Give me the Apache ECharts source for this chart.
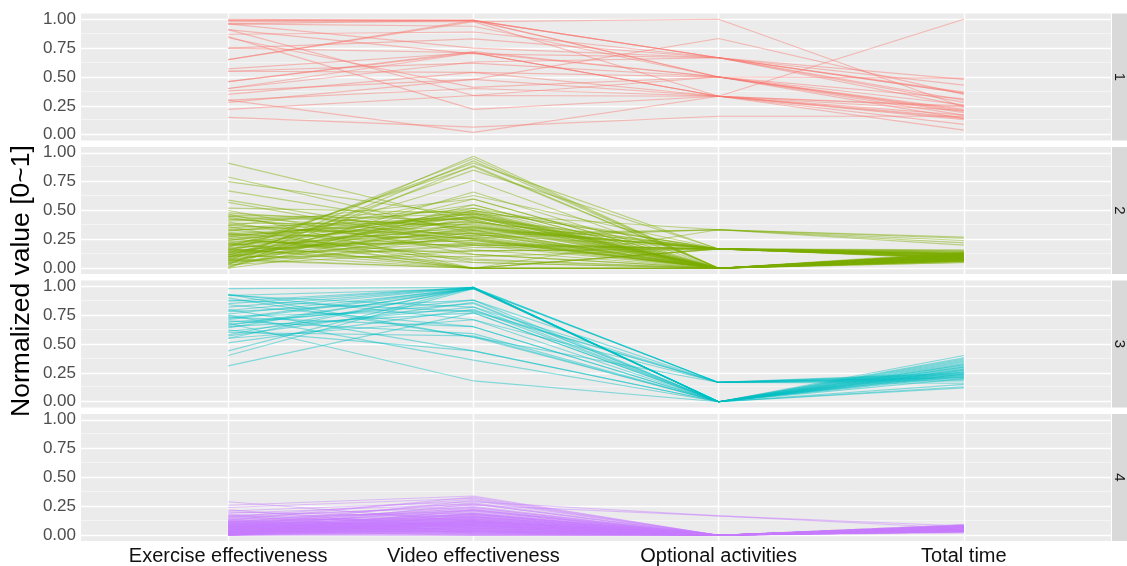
<!DOCTYPE html>
<html><head><meta charset="utf-8">
<script src="https://cdn.jsdelivr.net/npm/echarts@6/dist/echarts.min.js"></script>
<style>html,body{margin:0;padding:0;background:#fff}#c{width:1127px;height:566px}</style>
</head><body><div id="c"></div>
<script>
const categories = ['Exercise effectiveness', 'Video effectiveness', 'Optional activities', 'Total time'];
const yTicks = [0, 0.25, 0.5, 0.75, 1];
const yMinor = [0.125, 0.375, 0.625, 0.875];
const facetLabels = ['1', '2', '3', '4'];
const colors = ['#F8766D', '#7CAE00', '#00BFC4', '#C77CFF'];

// each row: [Exercise effectiveness, Video effectiveness, Optional activities, Total time]
const cluster1 = [
[1.00,0.99,0.667,0.25],[0.99,0.99,0.667,0.36],[0.98,0.98,1.00,0.24],[0.96,0.99,0.667,0.30],
[0.96,0.94,0.50,0.20],[0.91,0.34,0.50,0.14],[0.87,0.89,0.667,0.48],[0.85,0.22,0.333,1.00],
[0.84,0.41,0.50,0.17],[0.75,0.83,0.667,0.37],[0.75,0.71,0.50,0.21],[0.65,0.99,0.50,0.19],
[0.65,0.98,0.333,0.25],[0.57,0.71,0.333,0.15],[0.55,0.62,0.50,0.26],[0.55,0.54,0.333,0.13],
[0.46,0.71,0.333,0.24],[0.46,0.72,0.50,0.49],[0.40,0.71,0.333,0.17],[0.40,0.63,0.667,0.43],
[0.38,0.48,0.333,0.09],[0.35,0.54,0.50,0.31],[0.30,0.40,0.333,0.21],[0.28,0.48,0.833,0.35],
[0.22,0.34,0.333,0.14],[0.15,0.066,0.16,0.16],[0.30,0.02,0.333,0.04],[0.96,0.75,0.667,0.36],
[0.99,0.99,0.50,0.22],[0.91,0.70,0.667,0.28]
];
const cluster2 = [
[0.91,0.40,0.167,0.10],[0.79,0.30,0.0,0.08],[0.75,0.45,0.0,0.12],[0.67,0.33,0.167,0.09],
[0.59,0.25,0.0,0.07],[0.57,0.20,0.167,0.11],[0.52,0.48,0.0,0.10],[0.50,0.12,0.0,0.06],
[0.48,0.35,0.167,0.13],[0.47,0.00,0.0,0.05],[0.46,0.42,0.0,0.09],[0.45,0.28,0.333,0.24],
[0.44,0.16,0.0,0.08],[0.42,0.50,0.167,0.12],[0.40,0.05,0.0,0.07],[0.39,0.38,0.0,0.11],
[0.38,0.22,0.167,0.14],[0.37,0.60,0.0,0.09],[0.36,0.00,0.167,0.15],[0.35,0.44,0.0,0.06],
[0.34,0.30,0.0,0.10],[0.33,0.18,0.167,0.08],[0.32,0.52,0.0,0.12],[0.31,0.08,0.0,0.09],
[0.30,0.40,0.167,0.11],[0.29,0.26,0.0,0.07],[0.28,0.00,0.0,0.10],[0.27,0.47,0.0,0.13],
[0.26,0.34,0.167,0.16],[0.25,0.12,0.0,0.06],[0.24,0.55,0.0,0.09],[0.23,0.20,0.167,0.12],
[0.22,0.41,0.0,0.08],[0.21,0.00,0.0,0.11],[0.20,0.30,0.333,0.26],[0.20,0.63,0.167,0.14],
[0.19,0.45,0.0,0.10],[0.18,0.24,0.0,0.07],[0.18,0.88,0.0,0.12],[0.17,0.36,0.167,0.09],
[0.16,0.05,0.0,0.08],[0.16,0.49,0.0,0.11],[0.15,0.91,0.167,0.13],[0.15,0.28,0.0,0.06],
[0.14,0.42,0.0,0.10],[0.14,0.15,0.167,0.09],[0.13,0.95,0.0,0.12],[0.13,0.33,0.0,0.07],
[0.12,0.00,0.0,0.05],[0.12,0.52,0.167,0.11],[0.11,0.22,0.0,0.09],[0.11,0.76,0.0,0.13],
[0.10,0.39,0.0,0.08],[0.10,0.10,0.167,0.12],[0.09,0.46,0.0,0.10],[0.09,0.85,0.167,0.15],
[0.08,0.27,0.0,0.07],[0.08,0.60,0.0,0.11],[0.07,0.35,0.167,0.09],[0.07,0.00,0.0,0.06],
[0.06,0.97,0.0,0.10],[0.06,0.44,0.0,0.12],[0.05,0.20,0.0,0.08],[0.05,0.50,0.167,0.13],
[0.04,0.66,0.0,0.09],[0.04,0.31,0.0,0.11],[0.03,0.93,0.0,0.14],[0.03,0.15,0.167,0.10],
[0.02,0.40,0.0,0.07],[0.01,0.55,0.0,0.12],[0.00,0.29,0.167,0.09],[0.00,0.89,0.0,0.11],
[0.24,0.47,0.333,0.22],[0.30,0.00,0.333,0.20],[0.14,0.26,0.333,0.27],[0.43,0.25,0.0,0.10],
[0.41,0.47,0.0,0.08],[0.33,0.43,0.167,0.12],[0.29,0.36,0.0,0.09],[0.26,0.07,0.0,0.11],
[0.22,0.00,0.167,0.10],[0.19,0.50,0.0,0.13],[0.17,0.00,0.0,0.08],[0.12,0.32,0.0,0.10],
[0.08,0.00,0.167,0.12],[0.45,0.37,0.0,0.09],[0.37,0.26,0.0,0.12],[0.28,0.44,0.167,0.10],
[0.21,0.33,0.0,0.08],[0.16,0.24,0.0,0.11],[0.10,0.48,0.0,0.09],[0.06,0.21,0.167,0.13]
];
const cluster3 = [
[0.98,0.99,0.0,0.30],[0.93,0.71,0.167,0.25],[0.92,0.98,0.0,0.35],[0.92,0.82,0.0,0.28],
[0.90,0.56,0.167,0.21],[0.87,0.99,0.0,0.27],[0.84,0.65,0.0,0.32],[0.82,0.99,0.167,0.18],
[0.80,0.44,0.0,0.24],[0.78,0.88,0.0,0.30],[0.76,0.98,0.0,0.38],[0.75,0.36,0.0,0.26],
[0.74,0.79,0.167,0.22],[0.72,0.99,0.0,0.29],[0.70,0.59,0.0,0.33],[0.69,0.85,0.0,0.25],
[0.68,0.18,0.0,0.20],[0.66,0.98,0.167,0.23],[0.65,0.77,0.0,0.31],[0.64,0.99,0.0,0.36],
[0.61,0.82,0.167,0.19],[0.60,0.57,0.0,0.27],[0.58,0.98,0.0,0.22],[0.57,0.86,0.0,0.34],
[0.55,0.99,0.167,0.21],[0.55,0.71,0.0,0.28],[0.51,0.80,0.0,0.24],[0.44,0.99,0.0,0.40],
[0.40,0.98,0.167,0.16],[0.31,0.77,0.0,0.13],[0.85,0.99,0.0,0.26],[0.88,0.78,0.167,0.20],
[0.73,0.65,0.0,0.23],[0.62,0.44,0.0,0.15],[0.79,0.99,0.0,0.32],[0.67,0.88,0.167,0.24],
[0.93,0.56,0.0,0.12],[0.71,0.98,0.0,0.37]
];
const cluster4 = [
[0.29,0.12,0,0.05],[0.26,0.34,0,0.07],[0.24,0.32,0,0.04],[0.22,0.06,0,0.06],
[0.21,0.29,0.167,0.08],[0.20,0.16,0,0.03],[0.19,0.27,0,0.06],[0.18,0.08,0,0.05],
[0.17,0.24,0,0.07],[0.17,0.03,0,0.04],[0.16,0.19,0,0.06],[0.16,0.31,0,0.08],
[0.15,0.12,0,0.05],[0.15,0.26,0.167,0.06],[0.14,0.06,0,0.07],[0.14,0.21,0,0.03],
[0.13,0.15,0,0.06],[0.13,0.33,0,0.05],[0.12,0.09,0,0.08],[0.12,0.23,0,0.04],
[0.12,0.02,0,0.06],[0.11,0.18,0,0.07],[0.11,0.28,0,0.05],[0.11,0.11,0,0.09],
[0.10,0.05,0,0.06],[0.10,0.20,0,0.04],[0.10,0.14,0,0.07],[0.09,0.25,0,0.06],
[0.09,0.08,0,0.05],[0.09,0.17,0,0.08],[0.08,0.03,0,0.06],[0.08,0.22,0,0.04],
[0.08,0.12,0,0.07],[0.08,0.30,0,0.05],[0.07,0.07,0,0.06],[0.07,0.16,0,0.08],
[0.07,0.01,0,0.03],[0.07,0.19,0,0.06],[0.06,0.10,0,0.05],[0.06,0.24,0,0.07],
[0.06,0.05,0,0.04],[0.06,0.13,0,0.06],[0.05,0.18,0,0.08],[0.05,0.02,0,0.05],
[0.05,0.09,0,0.07],[0.05,0.27,0,0.06],[0.05,0.14,0,0.04],[0.04,0.06,0,0.06],
[0.04,0.21,0,0.05],[0.04,0.11,0,0.08],[0.04,0.00,0,0.07],[0.04,0.16,0,0.03],
[0.03,0.08,0,0.06],[0.03,0.13,0,0.05],[0.03,0.03,0,0.07],[0.03,0.19,0,0.06],
[0.03,0.10,0,0.04],[0.02,0.05,0,0.08],[0.02,0.15,0,0.06],[0.02,0.01,0,0.05],
[0.02,0.12,0,0.07],[0.02,0.07,0,0.06],[0.02,0.22,0,0.04],[0.01,0.04,0,0.06],
[0.01,0.09,0,0.07],[0.01,0.14,0,0.05],[0.01,0.00,0,0.08],[0.01,0.06,0,0.03],
[0.00,0.02,0,0.06],[0.00,0.11,0,0.05],[0.00,0.07,0,0.07],[0.00,0.17,0,0.04],
[0.00,0.04,0,0.06],[0.00,0.00,0,0.05],[0.06,0.08,0,0.09],[0.09,0.04,0,0.06],
[0.03,0.16,0,0.07],[0.05,0.06,0,0.05],[0.01,0.10,0,0.06],[0.07,0.12,0,0.04],
[0.04,0.03,0,0.07],[0.02,0.09,0,0.06],[0.08,0.06,0,0.05],[0.10,0.10,0,0.06],
[0.03,0.05,0,0.08],[0.11,0.07,0,0.07],[0.09,0.13,0,0.05],[0.06,0.03,0,0.08],
[0.04,0.12,0,0.04],[0.02,0.04,0,0.07],[0.00,0.08,0,0.06],[0.12,0.14,0,0.05],
[0.08,0.09,0,0.03],[0.05,0.11,0,0.06],[0.03,0.01,0,0.05],[0.01,0.13,0,0.08],
[0.07,0.05,0,0.07],[0.10,0.02,0,0.04],[0.05,0.15,0,0.09],[0.02,0.18,0,0.05],
[0.09,0.10,0,0.07],[0.04,0.08,0,0.02],[0.06,0.16,0,0.06],[0.00,0.12,0,0.07],
[0.13,0.04,0,0.06],[0.08,0.18,0,0.08],[0.03,0.11,0,0.03],[0.01,0.03,0,0.06],
[0.11,0.22,0,0.05],[0.07,0.09,0,0.07]
];
const clusters = [cluster1, cluster2, cluster3, cluster4];

const chart = echarts.init(document.getElementById('c'), null, {renderer: 'canvas'});
const FONT = 'Liberation Sans, Arial, Helvetica, sans-serif';
const panelLeft = 81, panelRight = 16, panelH = 127;
const panelTops = [13.5, 147, 280.5, 414];

const grids = [], xAxes = [], yAxes = [], series = [], graphics = [];
panelTops.forEach((top, k) => {
  const last = k === 3;
  grids.push({left: panelLeft, right: panelRight, top: top, height: panelH,
    show: true, backgroundColor: '#EBEBEB', borderWidth: 0, containLabel: false});
  xAxes.push({type: 'value', gridIndex: k, min: -0.6, max: 3.6,
    axisLine: {show: false}, splitLine: {show: false},
    axisTick: {show: last, customValues: [0,1,2,3], length: 4, lineStyle: {color: '#333', width: 1}},
    axisLabel: {show: last, customValues: [0,1,2,3], formatter: v => categories[Math.round(v)] || '',
      color: '#111', fontSize: 20, fontFamily: FONT, margin: 5}});
  yAxes.push({type: 'value', gridIndex: k, min: -0.05, max: 1.05,
    axisLine: {show: false}, splitLine: {show: false},
    axisTick: {show: true, customValues: yTicks, length: 4, lineStyle: {color: '#333', width: 1}},
    axisLabel: {customValues: yTicks, formatter: v => v.toFixed(2), color: '#4D4D4D',
      fontSize: 17, fontFamily: FONT, margin: 5}});
  const ml = [];
  yMinor.forEach(v => ml.push({yAxis: v, lineStyle: {color: '#F6F6F6', width: 0.8, type: 'solid'}}));
  yTicks.forEach(v => ml.push({yAxis: v, lineStyle: {color: '#FFFFFF', width: 1.4, type: 'solid'}}));
  [0,1,2,3].forEach(v => ml.push({xAxis: v, lineStyle: {color: '#FFFFFF', width: 1.4, type: 'solid'}}));
  series.push({type: 'line', xAxisIndex: k, yAxisIndex: k, data: [], z: 1, silent: true,
    markLine: {silent: true, symbol: 'none', animation: false, z: 1, label: {show: false}, data: ml}});
  clusters[k].forEach(row => {
    series.push({type: 'line', xAxisIndex: k, yAxisIndex: k, z: 3, silent: true, animation: false,
      symbol: 'none', showSymbol: false,
      lineStyle: {color: colors[k], width: 1.15, opacity: 0.45},
      data: row.map((v, i) => [i, v])});
  });
  graphics.push({type: 'rect', shape: {x: 1112, y: top, width: 15, height: panelH},
    style: {fill: '#D9D9D9'}, silent: true});
  graphics.push({type: 'text', x: 1119.5, y: top + panelH / 2, rotation: -Math.PI / 2,
    style: {text: facetLabels[k], fill: '#1A1A1A', font: '15px ' + FONT, align: 'center', verticalAlign: 'middle'}});
});
graphics.push({type: 'text', x: 22, y: 281, rotation: Math.PI / 2,
  style: {text: 'Normalized value [0~1]', fill: '#000', font: '26.5px ' + FONT, align: 'center', verticalAlign: 'middle'}});

chart.setOption({
  animation: false,
  backgroundColor: '#FFFFFF',
  grid: grids, xAxis: xAxes, yAxis: yAxes, series: series, graphic: graphics
});
</script></body></html>
